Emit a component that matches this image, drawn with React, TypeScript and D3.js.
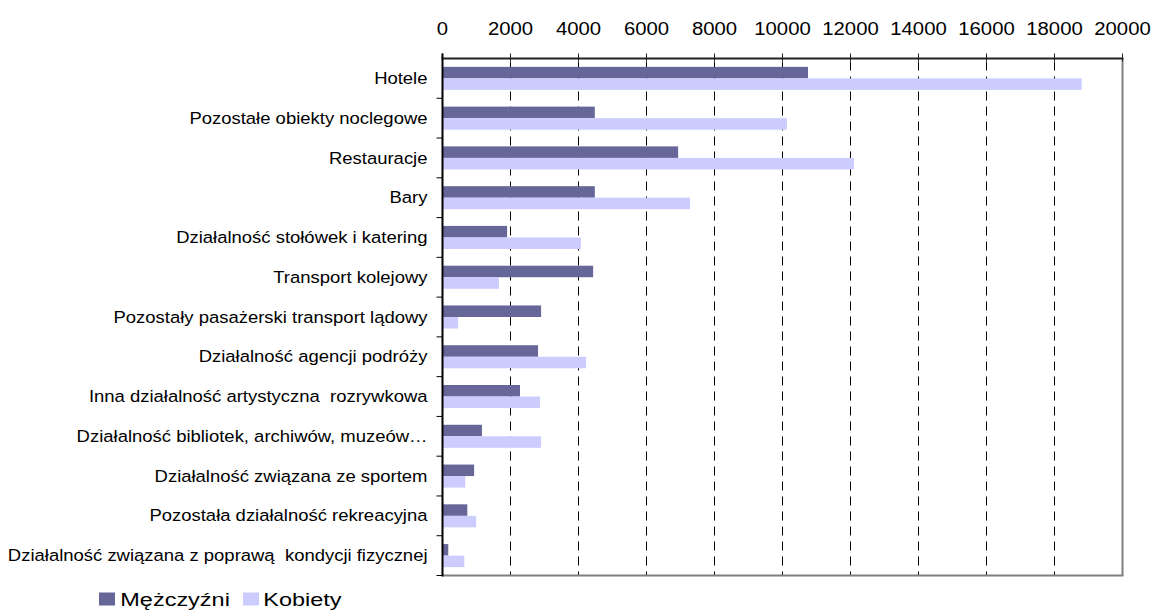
import React from "react";
import * as d3 from "d3";

const categories = [
  "Hotele",
  "Pozostałe obiekty noclegowe",
  "Restauracje",
  "Bary",
  "Działalność stołówek i katering",
  "Transport kolejowy",
  "Pozostały pasażerski transport lądowy",
  "Działalność agencji podróży",
  "Inna działalność artystyczna  rozrywkowa",
  "Działalność bibliotek, archiwów, muzeów…",
  "Działalność związana ze sportem",
  "Pozostała działalność rekreacyjna",
  "Działalność związana z poprawą  kondycji fizycznej",
];
const men = [10750, 4480, 6930, 4480, 1900, 4430, 2900, 2810, 2280, 1160, 930, 730, 170];
const women = [18800, 10130, 12100, 7280, 4070, 1660, 460, 4220, 2870, 2900, 670, 990, 640];
const seriesNames = ["Mężczyźni", "Kobiety"];
const seriesColors = ["#666699", "#CCCCFF"];
const xTicks = [0, 2000, 4000, 6000, 8000, 10000, 12000, 14000, 16000, 18000, 20000];

const W = 1153;
const H = 611;
const left = 442.5;
const right = 1122.5;
const top = 58.5;
const bottom = 575.5;
const FONT = "'Liberation Sans', Arial, sans-serif";

export default function App() {
  const x = d3.scaleLinear().domain([0, 20000]).range([left, right]);
  const y = d3
    .scaleBand<string>()
    .domain(categories)
    .range([top, bottom])
    .paddingInner(0.42)
    .paddingOuter(0.21);
  const ys = d3.scaleBand<number>().domain([0, 1]).range([0, y.bandwidth()]);
  const step = y.step();
  const series = [men, women];

  return (
    <div style={{ position: "absolute", left: 0, top: 0 }}>
      <svg width={W} height={H} style={{ display: "block", background: "#fff" }}>
        {/* gridlines */}
        {xTicks.slice(1, -1).map((t) => (
          <line
            key={"g" + t}
            x1={x(t)}
            x2={x(t)}
            y1={top}
            y2={bottom}
            stroke="#000"
            strokeWidth={1}
            strokeDasharray="9,6"
            strokeDashoffset={-3}
          />
        ))}
        {/* plot border right and bottom */}
        <line x1={right} x2={right} y1={top} y2={bottom} stroke="#808080" strokeWidth={2} />
        <line x1={left} x2={right + 1} y1={bottom} y2={bottom} stroke="#808080" strokeWidth={2} />
        {/* bars */}
        {series.map((vals, si) =>
          vals.map((v, i) => (
            <rect
              key={si + "-" + i}
              x={x(0)}
              y={(y(categories[i]) as number) + (ys(si) as number)}
              width={x(v) - x(0)}
              height={ys.bandwidth()}
              fill={seriesColors[si]}
            />
          ))
        )}
        {/* top axis */}
        <line x1={left - 1} x2={right + 1} y1={top} y2={top} stroke="#222" strokeWidth={2} />
        {xTicks.map((t) => (
          <g key={"t" + t}>
            <line x1={x(t)} x2={x(t)} y1={top - 5} y2={top + 3} stroke="#222" strokeWidth={1} />
            <text
              transform={`translate(${x(t)},34.5) scale(1.07,1)`}
              textAnchor="middle"
              fontFamily={FONT}
              fontSize={19}
              fill="#000"
            >
              {t}
            </text>
          </g>
        ))}
        {/* left axis */}
        <line x1={left} x2={left} y1={top - 5} y2={bottom + 1} stroke="#000" strokeWidth={2} />
        {categories.map((c, i) => (
          <line
            key={"lt" + i}
            x1={left - 6}
            x2={left}
            y1={top + step * (i + 1)}
            y2={top + step * (i + 1)}
            stroke="#000"
            strokeWidth={1}
          />
        ))}
        {categories.map((c) => (
          <text
            key={"l" + c}
            transform={`translate(427.5,${(y(c) as number) + y.bandwidth() / 2 + 5.6}) scale(1.1,1)`}
            textAnchor="end"
            fontFamily={FONT}
            fontSize={16.8}
            fill="#000"
            style={{ whiteSpace: "pre" }}
          >
            {c}
          </text>
        ))}
        {/* legend */}
        {[
          { sx: 99, tx: 120.3 },
          { sx: 243, tx: 263.3 },
        ].map((p, i) => (
          <g key={"lg" + i}>
            <rect x={p.sx} y={592.5} width={16} height={13} fill={seriesColors[i]} />
            <text
              transform={`translate(${p.tx},605.8) scale(1.27,1)`}
              fontFamily={FONT}
              fontSize={18.5}
              fill="#000"
            >
              {seriesNames[i]}
            </text>
          </g>
        ))}
      </svg>
    </div>
  );
}
